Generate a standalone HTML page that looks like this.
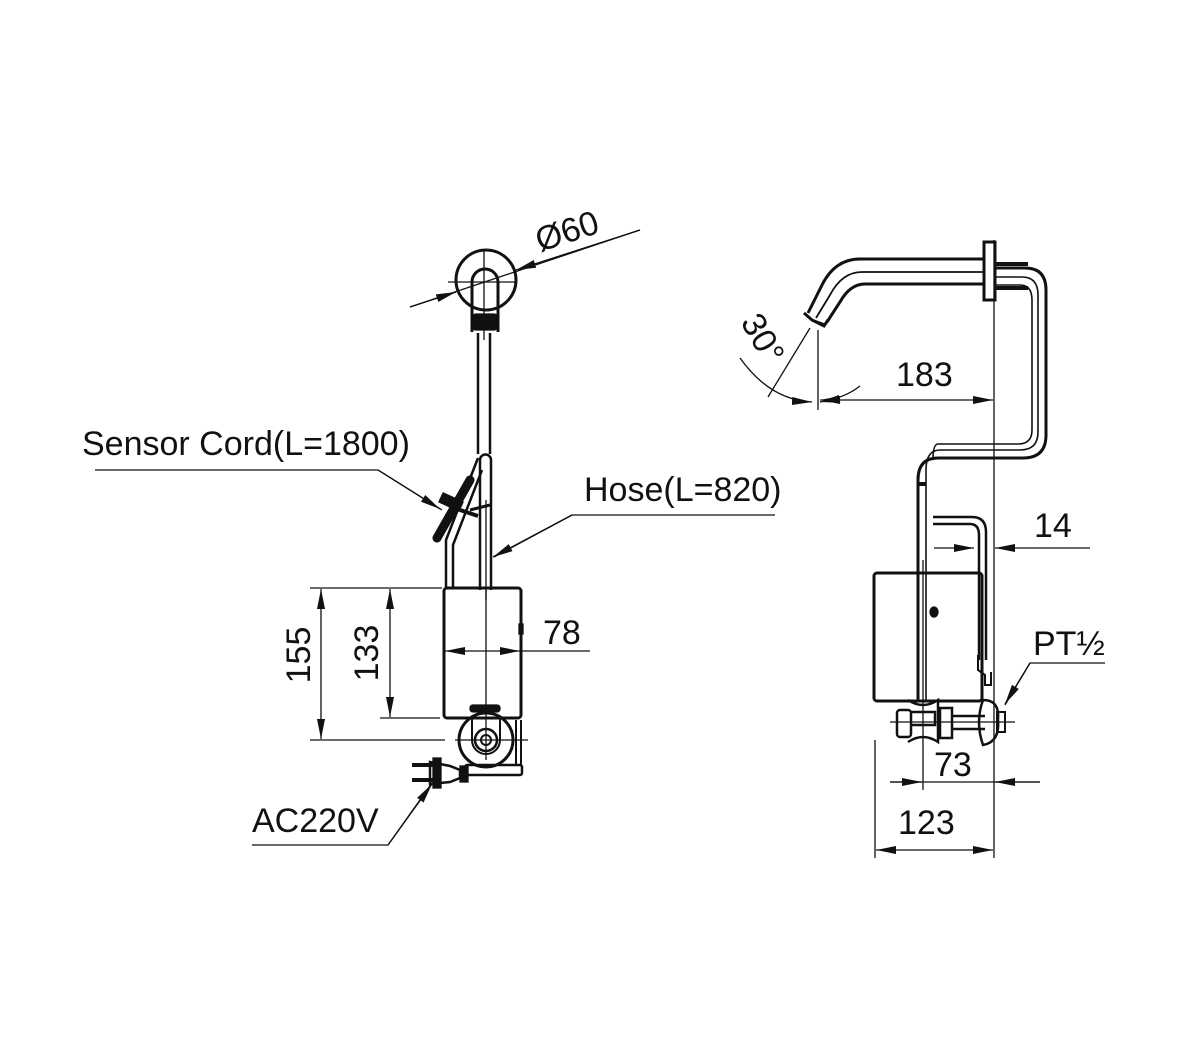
<!DOCTYPE html>
<html><head><meta charset="utf-8"><style>
html,body{margin:0;padding:0;background:#fff;}
svg{display:block;}
text{font-family:"Liberation Sans",sans-serif;fill:#111;}
</style></head><body>
<svg width="1200" height="1040" viewBox="0 0 1200 1040" xmlns="http://www.w3.org/2000/svg">
<defs>
<marker id="a" viewBox="0 0 20 8" refX="20" refY="4" markerWidth="20" markerHeight="8" markerUnits="userSpaceOnUse" orient="auto"><path d="M0,0 L20,4 L0,8 z" fill="#111"/></marker>
</defs>
<g fill="none" stroke="#111" stroke-width="1.3">
<circle cx="486" cy="280" r="30" stroke-width="3"/>
<line x1="448" y1="282" x2="516" y2="282"/>
<line x1="484" y1="250" x2="484" y2="340"/>
<path d="M472,332 V282 A13,13 0 0 1 498,282 V332" stroke-width="3"/>
<rect x="472" y="314" width="26" height="16" rx="4" fill="#111"/>
<line x1="410" y1="307" x2="456" y2="292" marker-end="url(#a)"/>
<line x1="640" y1="230" x2="516" y2="270" marker-end="url(#a)"/>
<line x1="410" y1="307" x2="640" y2="230"/>
<line x1="478" y1="333" x2="478" y2="454" stroke-width="2.5"/>
<line x1="490" y1="333" x2="490" y2="454" stroke-width="2.5"/>
<path d="M480,590 V460 A5.5,5.5 0 0 1 491,460 V590" stroke-width="2.5"/>
<line x1="486" y1="500" x2="486" y2="600"/>
<path d="M446,588 V540 L478,458" stroke-width="2.5"/>
<path d="M453,588 V545 L482,470" stroke-width="2.5"/>
<line x1="437" y1="538" x2="470" y2="480" stroke="#111" stroke-width="9" stroke-linecap="round"/>
<rect x="440" y="497" width="22" height="10" fill="#111" transform="rotate(25 451 502)"/>
<line x1="460" y1="510" x2="478" y2="516" stroke-width="4"/>
<line x1="470" y1="510" x2="490" y2="505" stroke-width="3"/>
<polyline points="95,470 378,470 442,510"/>
<line x1="378" y1="470" x2="440" y2="509" marker-end="url(#a)"/>
<polyline points="775,515 572,515 494,557"/>
<line x1="572" y1="515" x2="493" y2="557" marker-end="url(#a)"/>
<rect x="444" y="588" width="77" height="130" rx="3" stroke-width="3"/>
<line x1="486" y1="588" x2="486" y2="760"/>
<rect x="519" y="624" width="4" height="10" fill="#111"/>
<line x1="486" y1="651" x2="445" y2="651" marker-end="url(#a)"/>
<line x1="486" y1="651" x2="520" y2="651" marker-end="url(#a)"/>
<line x1="520" y1="651" x2="590" y2="651"/>
<line x1="310" y1="588" x2="442" y2="588"/>
<line x1="310" y1="740" x2="445" y2="740"/>
<line x1="321" y1="664" x2="321" y2="589" marker-end="url(#a)"/>
<line x1="321" y1="664" x2="321" y2="739" marker-end="url(#a)"/>
<line x1="380" y1="718" x2="440" y2="718"/>
<line x1="390" y1="653" x2="390" y2="589" marker-end="url(#a)"/>
<line x1="390" y1="653" x2="390" y2="717" marker-end="url(#a)"/>
<rect x="470" y="705" width="30" height="7" rx="3" fill="#111"/>
<circle cx="486" cy="740" r="27" stroke-width="3"/>
<path d="M472,718 V740 A14,14 0 0 0 500,740 V718" stroke-width="2"/>
<circle cx="486" cy="740" r="11" stroke-width="2.5"/>
<circle cx="486" cy="740" r="5" stroke-width="2"/>
<line x1="455" y1="740" x2="528" y2="740"/>
<path d="M516,720 V765 M521,720 V765" stroke-width="2"/>
<rect x="465" y="765" width="57" height="10" rx="2" stroke-width="2.5"/>
<path d="M430,762 L450,766 L460,770 V778 L450,782 L430,784 Z" stroke-width="2.5"/>
<rect x="433" y="758" width="8" height="30" fill="#111"/>
<line x1="412" y1="765" x2="433" y2="765" stroke-width="4"/>
<line x1="412" y1="780" x2="433" y2="780" stroke-width="4"/>
<rect x="460" y="766" width="8" height="16" fill="#111"/>
<polyline points="252,845 388,845 432,783"/>
<line x1="388" y1="845" x2="432" y2="784" marker-end="url(#a)"/>

<rect x="984" y="242" width="11" height="58" stroke-width="3"/>
<line x1="994" y1="240" x2="994" y2="858"/>
<path d="M984,259 H860 Q835,259 822,285 L808,313" stroke-width="3"/>
<path d="M984,272 H862 Q842,272 830,295 L816,318" stroke-width="1.8"/>
<path d="M984,284 H865 Q850,284 840,302 L827,322" stroke-width="3"/>
<path d="M804,313 L812,320 L824,326 L828,320" stroke-width="3"/>
<line x1="814" y1="321" x2="825" y2="325" stroke-width="3"/>
<line x1="996" y1="264" x2="1028" y2="264" stroke-width="4"/>
<line x1="996" y1="288" x2="1028" y2="288" stroke-width="4"/>
<path d="M996,268 H1025 Q1046,268 1046,290 V435 Q1046,458 1023,458 H938 Q918,458 918,480 V700" stroke-width="3"/>
<path d="M996,277 H1022 Q1038,277 1038,295 V432 Q1038,450 1020,450 H940 Q926,450 926,470 V700" stroke-width="1.6"/>
<path d="M996,285 H1020 Q1032,285 1032,300 V430 Q1032,444 1018,444 H938 Q933,444 933,460" stroke-width="1.6"/>
<path d="M926,484 H918" stroke-width="4"/>
<path d="M933,517 H972 Q986,517 986,532 V660" stroke-width="2.5"/>
<path d="M933,524 H970 Q979,524 979,535 V660" stroke-width="2.5"/>
<path d="M978,655 V670 L985,675 V685 H991 V672" stroke-width="2"/>
<line x1="818" y1="330" x2="818" y2="410"/>
<line x1="900" y1="400" x2="820" y2="400" marker-end="url(#a)"/>
<line x1="900" y1="400" x2="993" y2="400" marker-end="url(#a)"/>
<line x1="810" y1="328" x2="768" y2="397"/>
<path d="M740,358 Q770,400 812,402" marker-end="url(#a)"/>
<path d="M860,386 Q845,398 820,402" marker-end="url(#a)"/>
<line x1="934" y1="548" x2="974" y2="548" marker-end="url(#a)"/>
<line x1="1090" y1="548" x2="995" y2="548" marker-end="url(#a)"/>
<line x1="979" y1="535" x2="979" y2="565"/>
<rect x="874" y="573" width="108" height="128" rx="3" stroke-width="3"/>
<line x1="923" y1="560" x2="923" y2="790"/>
<ellipse cx="934" cy="612" rx="4" ry="5" fill="#111"/>
<rect x="897" y="710" width="14" height="27" rx="3" stroke-width="2.5"/>
<path d="M911,712 H935 V725 H911" stroke-width="2.5"/>
<path d="M908,700 Q923,710 938,700 V742 Q923,732 908,742" stroke-width="2.5"/>
<rect x="940" y="708" width="12" height="30" stroke-width="2.5"/>
<line x1="952" y1="716" x2="985" y2="716" stroke-width="2.5"/>
<line x1="952" y1="729" x2="985" y2="729" stroke-width="2.5"/>
<path d="M983,700 Q1000,700 998,720 Q1000,742 983,745 Q975,722 983,700 Z" stroke-width="2.5"/>
<rect x="997" y="712" width="8" height="20" stroke-width="2"/>
<line x1="890" y1="722" x2="1015" y2="722"/>
<polyline points="1105,663 1030,663 1005,705"/>
<line x1="1030" y1="663" x2="1005" y2="704" marker-end="url(#a)"/>
<line x1="875" y1="740" x2="875" y2="858"/>
<line x1="890" y1="782" x2="922" y2="782" marker-end="url(#a)"/>
<line x1="1040" y1="782" x2="995" y2="782" marker-end="url(#a)"/>
<line x1="890" y1="782" x2="1040" y2="782"/>
<line x1="935" y1="850" x2="876" y2="850" marker-end="url(#a)"/>
<line x1="935" y1="850" x2="993" y2="850" marker-end="url(#a)"/>
</g>
<g font-size="34">
<text transform="translate(540,252) rotate(-18)">Ø60</text>
<text x="82" y="455">Sensor Cord(L=1800)</text>
<text x="584" y="501">Hose(L=820)</text>
<text x="543" y="644">78</text>
<text transform="translate(310,655) rotate(-90)" text-anchor="middle">155</text>
<text transform="translate(378,653) rotate(-90)" text-anchor="middle">133</text>
<text transform="translate(896,386)">183</text>
<text transform="translate(740,322) rotate(60)">30°</text>
<text x="1034" y="537">14</text>
<text x="1033" y="655">PT½</text>
<text x="934" y="776">73</text>
<text x="898" y="834">123</text>
<text x="252" y="832">AC220V</text>
</g>
</svg>
</body></html>
